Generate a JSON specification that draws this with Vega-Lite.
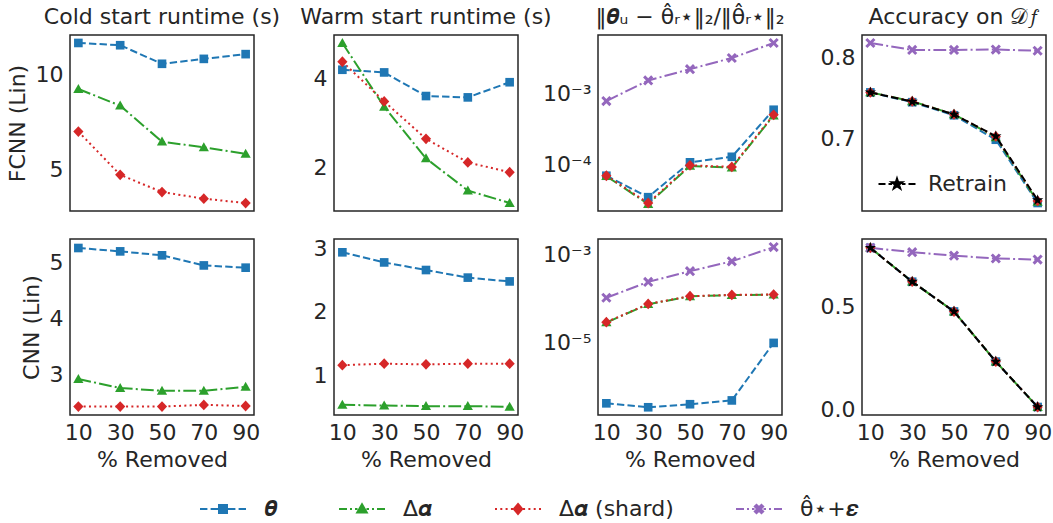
{
  "$schema": "https://vega.github.io/schema/vega-lite/v6.json",
  "padding": {"left": 5, "top": 5, "right": 5, "bottom": 5},
  "datasets": {
    "d": [
      {"r":"F","p":"cold","m":"theta","x":10,"y":11.68},{"r":"F","p":"cold","m":"theta","x":30,"y":11.56},{"r":"F","p":"cold","m":"theta","x":50,"y":10.58},{"r":"F","p":"cold","m":"theta","x":70,"y":10.84},{"r":"F","p":"cold","m":"theta","x":90,"y":11.09},
      {"r":"F","p":"cold","m":"dalpha","x":10,"y":9.25},{"r":"F","p":"cold","m":"dalpha","x":30,"y":8.37},{"r":"F","p":"cold","m":"dalpha","x":50,"y":6.47},{"r":"F","p":"cold","m":"dalpha","x":70,"y":6.17},{"r":"F","p":"cold","m":"dalpha","x":90,"y":5.83},
      {"r":"F","p":"cold","m":"shard","x":10,"y":7.0},{"r":"F","p":"cold","m":"shard","x":30,"y":4.72},{"r":"F","p":"cold","m":"shard","x":50,"y":3.81},{"r":"F","p":"cold","m":"shard","x":70,"y":3.46},{"r":"F","p":"cold","m":"shard","x":90,"y":3.23},

      {"r":"F","p":"warm","m":"theta","x":10,"y":4.19},{"r":"F","p":"warm","m":"theta","x":30,"y":4.13},{"r":"F","p":"warm","m":"theta","x":50,"y":3.60},{"r":"F","p":"warm","m":"theta","x":70,"y":3.57},{"r":"F","p":"warm","m":"theta","x":90,"y":3.91},
      {"r":"F","p":"warm","m":"dalpha","x":10,"y":4.79},{"r":"F","p":"warm","m":"dalpha","x":30,"y":3.36},{"r":"F","p":"warm","m":"dalpha","x":50,"y":2.20},{"r":"F","p":"warm","m":"dalpha","x":70,"y":1.48},{"r":"F","p":"warm","m":"dalpha","x":90,"y":1.20},
      {"r":"F","p":"warm","m":"shard","x":10,"y":4.37},{"r":"F","p":"warm","m":"shard","x":30,"y":3.48},{"r":"F","p":"warm","m":"shard","x":50,"y":2.64},{"r":"F","p":"warm","m":"shard","x":70,"y":2.11},{"r":"F","p":"warm","m":"shard","x":90,"y":1.89},

      {"r":"F","p":"dist","m":"theta","x":10,"y":7.0e-5},{"r":"F","p":"dist","m":"theta","x":30,"y":3.5e-5},{"r":"F","p":"dist","m":"theta","x":50,"y":1.08e-4},{"r":"F","p":"dist","m":"theta","x":70,"y":1.29e-4},{"r":"F","p":"dist","m":"theta","x":90,"y":5.9e-4},
      {"r":"F","p":"dist","m":"dalpha","x":10,"y":6.9e-5},{"r":"F","p":"dist","m":"dalpha","x":30,"y":2.8e-5},{"r":"F","p":"dist","m":"dalpha","x":50,"y":9.6e-5},{"r":"F","p":"dist","m":"dalpha","x":70,"y":9.1e-5},{"r":"F","p":"dist","m":"dalpha","x":90,"y":4.9e-4},
      {"r":"F","p":"dist","m":"shard","x":10,"y":7.0e-5},{"r":"F","p":"dist","m":"shard","x":30,"y":2.9e-5},{"r":"F","p":"dist","m":"shard","x":50,"y":9.8e-5},{"r":"F","p":"dist","m":"shard","x":70,"y":9.3e-5},{"r":"F","p":"dist","m":"shard","x":90,"y":5.0e-4},
      {"r":"F","p":"dist","m":"noise","x":10,"y":7.8e-4},{"r":"F","p":"dist","m":"noise","x":30,"y":1.52e-3},{"r":"F","p":"dist","m":"noise","x":50,"y":2.19e-3},{"r":"F","p":"dist","m":"noise","x":70,"y":3.14e-3},{"r":"F","p":"dist","m":"noise","x":90,"y":5.1e-3},

      {"r":"F","p":"acc","m":"theta","x":10,"y":0.757},{"r":"F","p":"acc","m":"theta","x":30,"y":0.745},{"r":"F","p":"acc","m":"theta","x":50,"y":0.729},{"r":"F","p":"acc","m":"theta","x":70,"y":0.699},{"r":"F","p":"acc","m":"theta","x":90,"y":0.6215},
      {"r":"F","p":"acc","m":"dalpha","x":10,"y":0.757},{"r":"F","p":"acc","m":"dalpha","x":30,"y":0.746},{"r":"F","p":"acc","m":"dalpha","x":50,"y":0.730},{"r":"F","p":"acc","m":"dalpha","x":70,"y":0.702},{"r":"F","p":"acc","m":"dalpha","x":90,"y":0.623},
      {"r":"F","p":"acc","m":"shard","x":10,"y":0.757},{"r":"F","p":"acc","m":"shard","x":30,"y":0.746},{"r":"F","p":"acc","m":"shard","x":50,"y":0.730},{"r":"F","p":"acc","m":"shard","x":70,"y":0.703},{"r":"F","p":"acc","m":"shard","x":90,"y":0.624},
      {"r":"F","p":"acc","m":"noise","x":10,"y":0.8175},{"r":"F","p":"acc","m":"noise","x":30,"y":0.809},{"r":"F","p":"acc","m":"noise","x":50,"y":0.809},{"r":"F","p":"acc","m":"noise","x":70,"y":0.8095},{"r":"F","p":"acc","m":"noise","x":90,"y":0.808},
      {"r":"F","p":"acc","m":"retrain","x":10,"y":0.757},{"r":"F","p":"acc","m":"retrain","x":30,"y":0.7457},{"r":"F","p":"acc","m":"retrain","x":50,"y":0.730},{"r":"F","p":"acc","m":"retrain","x":70,"y":0.7033},{"r":"F","p":"acc","m":"retrain","x":90,"y":0.625},

      {"r":"C","p":"cold","m":"theta","x":10,"y":5.25},{"r":"C","p":"cold","m":"theta","x":30,"y":5.19},{"r":"C","p":"cold","m":"theta","x":50,"y":5.12},{"r":"C","p":"cold","m":"theta","x":70,"y":4.94},{"r":"C","p":"cold","m":"theta","x":90,"y":4.90},
      {"r":"C","p":"cold","m":"dalpha","x":10,"y":2.92},{"r":"C","p":"cold","m":"dalpha","x":30,"y":2.76},{"r":"C","p":"cold","m":"dalpha","x":50,"y":2.71},{"r":"C","p":"cold","m":"dalpha","x":70,"y":2.71},{"r":"C","p":"cold","m":"dalpha","x":90,"y":2.78},
      {"r":"C","p":"cold","m":"shard","x":10,"y":2.43},{"r":"C","p":"cold","m":"shard","x":30,"y":2.43},{"r":"C","p":"cold","m":"shard","x":50,"y":2.43},{"r":"C","p":"cold","m":"shard","x":70,"y":2.46},{"r":"C","p":"cold","m":"shard","x":90,"y":2.44},

      {"r":"C","p":"warm","m":"theta","x":10,"y":2.94},{"r":"C","p":"warm","m":"theta","x":30,"y":2.78},{"r":"C","p":"warm","m":"theta","x":50,"y":2.66},{"r":"C","p":"warm","m":"theta","x":70,"y":2.54},{"r":"C","p":"warm","m":"theta","x":90,"y":2.48},
      {"r":"C","p":"warm","m":"dalpha","x":10,"y":0.53},{"r":"C","p":"warm","m":"dalpha","x":30,"y":0.52},{"r":"C","p":"warm","m":"dalpha","x":50,"y":0.51},{"r":"C","p":"warm","m":"dalpha","x":70,"y":0.51},{"r":"C","p":"warm","m":"dalpha","x":90,"y":0.50},
      {"r":"C","p":"warm","m":"shard","x":10,"y":1.157},{"r":"C","p":"warm","m":"shard","x":30,"y":1.18},{"r":"C","p":"warm","m":"shard","x":50,"y":1.17},{"r":"C","p":"warm","m":"shard","x":70,"y":1.18},{"r":"C","p":"warm","m":"shard","x":90,"y":1.18},

      {"r":"C","p":"dist","m":"theta","x":10,"y":4.3e-7},{"r":"C","p":"dist","m":"theta","x":30,"y":3.5e-7},{"r":"C","p":"dist","m":"theta","x":50,"y":4.1e-7},{"r":"C","p":"dist","m":"theta","x":70,"y":5.0e-7},{"r":"C","p":"dist","m":"theta","x":90,"y":1.0e-5},
      {"r":"C","p":"dist","m":"dalpha","x":10,"y":2.9e-5},{"r":"C","p":"dist","m":"dalpha","x":30,"y":7.5e-5},{"r":"C","p":"dist","m":"dalpha","x":50,"y":1.13e-4},{"r":"C","p":"dist","m":"dalpha","x":70,"y":1.21e-4},{"r":"C","p":"dist","m":"dalpha","x":90,"y":1.23e-4},
      {"r":"C","p":"dist","m":"shard","x":10,"y":2.95e-5},{"r":"C","p":"dist","m":"shard","x":30,"y":7.6e-5},{"r":"C","p":"dist","m":"shard","x":50,"y":1.14e-4},{"r":"C","p":"dist","m":"shard","x":70,"y":1.22e-4},{"r":"C","p":"dist","m":"shard","x":90,"y":1.24e-4},
      {"r":"C","p":"dist","m":"noise","x":10,"y":1.05e-4},{"r":"C","p":"dist","m":"noise","x":30,"y":2.4e-4},{"r":"C","p":"dist","m":"noise","x":50,"y":4.2e-4},{"r":"C","p":"dist","m":"noise","x":70,"y":7.0e-4},{"r":"C","p":"dist","m":"noise","x":90,"y":1.47e-3},

      {"r":"C","p":"acc","m":"theta","x":10,"y":0.786},{"r":"C","p":"acc","m":"theta","x":30,"y":0.621},{"r":"C","p":"acc","m":"theta","x":50,"y":0.476},{"r":"C","p":"acc","m":"theta","x":70,"y":0.232},{"r":"C","p":"acc","m":"theta","x":90,"y":0.011},
      {"r":"C","p":"acc","m":"dalpha","x":10,"y":0.786},{"r":"C","p":"acc","m":"dalpha","x":30,"y":0.621},{"r":"C","p":"acc","m":"dalpha","x":50,"y":0.476},{"r":"C","p":"acc","m":"dalpha","x":70,"y":0.232},{"r":"C","p":"acc","m":"dalpha","x":90,"y":0.011},
      {"r":"C","p":"acc","m":"shard","x":10,"y":0.786},{"r":"C","p":"acc","m":"shard","x":30,"y":0.621},{"r":"C","p":"acc","m":"shard","x":50,"y":0.476},{"r":"C","p":"acc","m":"shard","x":70,"y":0.232},{"r":"C","p":"acc","m":"shard","x":90,"y":0.011},
      {"r":"C","p":"acc","m":"noise","x":10,"y":0.786},{"r":"C","p":"acc","m":"noise","x":30,"y":0.765},{"r":"C","p":"acc","m":"noise","x":50,"y":0.748},{"r":"C","p":"acc","m":"noise","x":70,"y":0.734},{"r":"C","p":"acc","m":"noise","x":90,"y":0.729},
      {"r":"C","p":"acc","m":"retrain","x":10,"y":0.786},{"r":"C","p":"acc","m":"retrain","x":30,"y":0.621},{"r":"C","p":"acc","m":"retrain","x":50,"y":0.476},{"r":"C","p":"acc","m":"retrain","x":70,"y":0.232},{"r":"C","p":"acc","m":"retrain","x":90,"y":0.011}
    ]
  },
  "data": {"name": "d"},
  "columns": 4,
  "spacing": {"row": 28, "column": 80},
  "bounds": "flush",
  "resolve": {"scale": {"fill": "independent"}, "legend": {"fill": "independent"}},
  "concat": [
    {
      "width": 184, "height": 176,
      "title": "Cold start runtime (s)",
      "transform": [{"filter": "datum.r == 'F' && datum.p == 'cold'"}],
      "encoding": {
        "x": {"field": "x", "type": "quantitative", "scale": {"domain": [6, 94], "nice": false}, "axis": {"labels": false, "title": null, "values": [10, 30, 50, 70, 90]}},
        "y": {"field": "y", "type": "quantitative", "scale": {"domain": [2.81, 12.1], "nice": false, "zero": false}, "axis": {"values": [5, 10], "title": "FCNN (Lin)"}}
      },
      "layer": [
        {"transform": [{"filter": "datum.m != 'retrain'"}], "mark": {"type": "line", "strokeWidth": 2},
         "encoding": {
           "color": {"field": "m", "type": "nominal", "scale": {"domain": ["theta","dalpha","shard","noise"], "range": ["#1f77b4","#2ca02c","#d62728","#9467bd"]},
             "legend": {
               "orient": "bottom", "direction": "horizontal", "title": null, "offset": 27,
               "labelExpr": "datum.value == 'theta' ? '𝜽' : datum.value == 'dalpha' ? 'Δ𝜶' : datum.value == 'shard' ? 'Δ𝜶 (shard)' : 'θ̂⋆+𝜺'",
               "labelFontSize": 22, "labelColor": "#262626",
               "symbolSize": 400, "symbolOffset": 13, "labelOffset": 30, "columnPadding": 58,
               "symbolStrokeWidth": 2,
               "encode": {"symbols": {"update": {
                 "shape": {"signal": "datum.value == 'theta' ? 'M-2.3,0H-1.56M-1.24,0H-0.5M0.5,0H1.24M1.56,0H2.3M-0.4,-0.4H0.4V0.4H-0.4Z' : datum.value == 'dalpha' ? 'M-2.3,0H-1.5M-1.2,0H-1M-0.7,0H-0.45M0.45,0H0.7M1,0H1.2M1.5,0H2.3M0,-0.48L0.48,0.36L-0.48,0.36Z' : datum.value == 'shard' ? 'M-2.3,0H-2.1M-1.77,0H-1.57M-1.24,0H-1.04M-0.71,0H-0.51M0.51,0H0.71M1.04,0H1.24M1.57,0H1.77M2.1,0H2.3M0,-0.5L0.42,0L0,0.5L-0.42,0Z' : 'M-2.3,0H-1.5M-1.2,0H-1M-0.7,0H-0.45M0.45,0H0.7M1,0H1.2M1.5,0H2.3M-0.42,-0.25L-0.25,-0.42L0,-0.17L0.25,-0.42L0.42,-0.25L0.17,0L0.42,0.25L0.25,0.42L0,0.17L-0.25,0.42L-0.42,0.25L-0.17,0Z'"},
                 "fill": {"signal": "scale('color', datum.value)"},
                 "stroke": {"signal": "scale('color', datum.value)"},
                 "strokeWidth": {"value": 2},
                 "opacity": {"value": 1}
               }}}
             }},
           "strokeDash": {"field": "m", "type": "nominal", "scale": {"domain": ["noise","shard","dalpha","theta"], "range": [[12.8,3.2,2,3.2],[2,3.3],[12.8,3.2,2,3.2],[7.4,3.2]]}, "legend": null}}},
        {"transform": [{"filter": "datum.m != 'retrain'"}], "mark": {"type": "point", "filled": true, "opacity": 1, "size": 144},
         "encoding": {
           "color": {"field": "m", "type": "nominal", "scale": {"domain": ["theta","dalpha","shard","noise"], "range": ["#1f77b4","#2ca02c","#d62728","#9467bd"]}},
           "shape": {"field": "m", "type": "nominal", "scale": {"domain": ["noise","shard","dalpha","theta"], "range": ["M-0.85,-0.5L-0.5,-0.85L0,-0.35L0.5,-0.85L0.85,-0.5L0.35,0L0.85,0.5L0.5,0.85L0,0.35L-0.5,0.85L-0.85,0.5L-0.35,0Z","M0,-0.9L0.85,0L0,0.9L-0.85,0Z","M0,-0.85L0.85,0.65L-0.85,0.65Z","M-0.72,-0.72H0.72V0.72H-0.72Z"]}, "legend": null}}}
      ]
    },
    {
      "width": 184, "height": 176,
      "title": "Warm start runtime (s)",
      "transform": [{"filter": "datum.r == 'F' && datum.p == 'warm'"}],
      "encoding": {
        "x": {"field": "x", "type": "quantitative", "scale": {"domain": [6, 94], "nice": false}, "axis": {"labels": false, "title": null, "values": [10, 30, 50, 70, 90]}},
        "y": {"field": "y", "type": "quantitative", "scale": {"domain": [1.02, 4.97], "nice": false, "zero": false}, "axis": {"values": [2, 4], "title": null}}
      },
      "layer": [
        {"transform": [{"filter": "datum.m != 'retrain'"}], "mark": {"type": "line", "strokeWidth": 2},
         "encoding": {
           "color": {"field": "m", "type": "nominal", "scale": {"domain": ["theta","dalpha","shard","noise"], "range": ["#1f77b4","#2ca02c","#d62728","#9467bd"]}},
           "strokeDash": {"field": "m", "type": "nominal", "scale": {"domain": ["noise","shard","dalpha","theta"], "range": [[12.8,3.2,2,3.2],[2,3.3],[12.8,3.2,2,3.2],[7.4,3.2]]}, "legend": null}}},
        {"transform": [{"filter": "datum.m != 'retrain'"}], "mark": {"type": "point", "filled": true, "opacity": 1, "size": 144},
         "encoding": {
           "color": {"field": "m", "type": "nominal", "scale": {"domain": ["theta","dalpha","shard","noise"], "range": ["#1f77b4","#2ca02c","#d62728","#9467bd"]}},
           "shape": {"field": "m", "type": "nominal", "scale": {"domain": ["noise","shard","dalpha","theta"], "range": ["M-0.85,-0.5L-0.5,-0.85L0,-0.35L0.5,-0.85L0.85,-0.5L0.35,0L0.85,0.5L0.5,0.85L0,0.35L-0.5,0.85L-0.85,0.5L-0.35,0Z","M0,-0.9L0.85,0L0,0.9L-0.85,0Z","M0,-0.85L0.85,0.65L-0.85,0.65Z","M-0.72,-0.72H0.72V0.72H-0.72Z"]}, "legend": null}}}
      ]
    },
    {
      "width": 184, "height": 176,
      "title": "‖𝜽ᵤ − θ̂ᵣ⋆‖₂/‖θ̂ᵣ⋆‖₂",
      "transform": [{"filter": "datum.r == 'F' && datum.p == 'dist'"}],
      "encoding": {
        "x": {"field": "x", "type": "quantitative", "scale": {"domain": [6, 94], "nice": false}, "axis": {"labels": false, "title": null, "values": [10, 30, 50, 70, 90]}},
        "y": {"field": "y", "type": "quantitative", "scale": {"type": "log", "domain": [2.24e-5, 6.6e-3], "nice": false}, "axis": {"values": [0.0001, 0.001], "labelExpr": "datum.value < 0.0005 ? '10⁻⁴' : '10⁻³'", "title": null}}
      },
      "layer": [
        {"transform": [{"filter": "datum.m != 'retrain'"}], "mark": {"type": "line", "strokeWidth": 2},
         "encoding": {
           "color": {"field": "m", "type": "nominal", "scale": {"domain": ["theta","dalpha","shard","noise"], "range": ["#1f77b4","#2ca02c","#d62728","#9467bd"]}},
           "strokeDash": {"field": "m", "type": "nominal", "scale": {"domain": ["noise","shard","dalpha","theta"], "range": [[12.8,3.2,2,3.2],[2,3.3],[12.8,3.2,2,3.2],[7.4,3.2]]}, "legend": null}}},
        {"transform": [{"filter": "datum.m != 'retrain'"}], "mark": {"type": "point", "filled": true, "opacity": 1, "size": 144},
         "encoding": {
           "color": {"field": "m", "type": "nominal", "scale": {"domain": ["theta","dalpha","shard","noise"], "range": ["#1f77b4","#2ca02c","#d62728","#9467bd"]}},
           "shape": {"field": "m", "type": "nominal", "scale": {"domain": ["noise","shard","dalpha","theta"], "range": ["M-0.85,-0.5L-0.5,-0.85L0,-0.35L0.5,-0.85L0.85,-0.5L0.35,0L0.85,0.5L0.5,0.85L0,0.35L-0.5,0.85L-0.85,0.5L-0.35,0Z","M0,-0.9L0.85,0L0,0.9L-0.85,0Z","M0,-0.85L0.85,0.65L-0.85,0.65Z","M-0.72,-0.72H0.72V0.72H-0.72Z"]}, "legend": null}}}
      ]
    },
    {
      "width": 184, "height": 176,
      "title": "Accuracy on 𝒟𝑓",
      "transform": [{"filter": "datum.r == 'F' && datum.p == 'acc'"}],
      "encoding": {
        "x": {"field": "x", "type": "quantitative", "scale": {"domain": [6, 94], "nice": false}, "axis": {"labels": false, "title": null, "values": [10, 30, 50, 70, 90]}},
        "y": {"field": "y", "type": "quantitative", "scale": {"domain": [0.6117, 0.8273], "nice": false, "zero": false}, "axis": {"values": [0.7, 0.8], "format": ".1f", "title": null}}
      },
      "layer": [
        {"transform": [{"filter": "datum.m != 'retrain'"}], "mark": {"type": "line", "strokeWidth": 2},
         "encoding": {
           "color": {"field": "m", "type": "nominal", "scale": {"domain": ["theta","dalpha","shard","noise"], "range": ["#1f77b4","#2ca02c","#d62728","#9467bd"]}},
           "strokeDash": {"field": "m", "type": "nominal", "scale": {"domain": ["noise","shard","dalpha","theta"], "range": [[12.8,3.2,2,3.2],[2,3.3],[12.8,3.2,2,3.2],[7.4,3.2]]}, "legend": null}}},
        {"transform": [{"filter": "datum.m != 'retrain'"}], "mark": {"type": "point", "filled": true, "opacity": 1, "size": 144},
         "encoding": {
           "color": {"field": "m", "type": "nominal", "scale": {"domain": ["theta","dalpha","shard","noise"], "range": ["#1f77b4","#2ca02c","#d62728","#9467bd"]}},
           "shape": {"field": "m", "type": "nominal", "scale": {"domain": ["noise","shard","dalpha","theta"], "range": ["M-0.85,-0.5L-0.5,-0.85L0,-0.35L0.5,-0.85L0.85,-0.5L0.35,0L0.85,0.5L0.5,0.85L0,0.35L-0.5,0.85L-0.85,0.5L-0.35,0Z","M0,-0.9L0.85,0L0,0.9L-0.85,0Z","M0,-0.85L0.85,0.65L-0.85,0.65Z","M-0.72,-0.72H0.72V0.72H-0.72Z"]}, "legend": null}}},
        {"transform": [{"filter": "datum.m == 'retrain'"}], "mark": {"type": "line", "strokeWidth": 2, "color": "black", "strokeDash": [7.4, 3.2]}, "encoding": {}},
        {"transform": [{"filter": "datum.m == 'retrain'"}], "mark": {"type": "point", "filled": true, "opacity": 1, "size": 144, "shape": "M0,-1L0.223,-0.307L0.951,-0.309L0.361,0.117L0.588,0.809L0,0.38L-0.588,0.809L-0.361,0.117L-0.951,-0.309L-0.223,-0.307Z"},
         "encoding": {
           "fill": {"field": "m", "type": "nominal", "scale": {"range": ["black"]},
             "legend": {
               "orient": "bottom-left", "title": null, "offset": 16, "labelExpr": "'Retrain'",
               "labelFontSize": 22, "labelColor": "#262626",
               "symbolSize": 400, "symbolOffset": 8, "labelOffset": 20,
               "symbolStrokeColor": "black", "symbolStrokeWidth": 2, "symbolFillColor": "black",
               "symbolType": "M-1.85,0H-1.15M-0.85,0H-0.5M0.5,0H0.85M1.15,0H1.85M0,-0.55L0.123,-0.17L0.523,-0.17L0.199,0.065L0.323,0.445L0,0.209L-0.323,0.445L-0.199,0.065L-0.523,-0.17L-0.123,-0.17Z",
               "encode": {"symbols": {"update": {"stroke": {"value": "black"}, "strokeWidth": {"value": 2}, "fill": {"value": "black"}, "opacity": {"value": 1}}}}
             }}}}
      ]
    },
    {
      "width": 184, "height": 176,
      "transform": [{"filter": "datum.r == 'C' && datum.p == 'cold'"}],
      "encoding": {
        "x": {"field": "x", "type": "quantitative", "scale": {"domain": [6, 94], "nice": false}, "axis": {"title": "% Removed", "values": [10, 30, 50, 70, 90]}},
        "y": {"field": "y", "type": "quantitative", "scale": {"domain": [2.28, 5.41], "nice": false, "zero": false}, "axis": {"values": [3, 4, 5], "title": "CNN (Lin)"}}
      },
      "layer": [
        {"transform": [{"filter": "datum.m != 'retrain'"}], "mark": {"type": "line", "strokeWidth": 2},
         "encoding": {
           "color": {"field": "m", "type": "nominal", "scale": {"domain": ["theta","dalpha","shard","noise"], "range": ["#1f77b4","#2ca02c","#d62728","#9467bd"]}},
           "strokeDash": {"field": "m", "type": "nominal", "scale": {"domain": ["noise","shard","dalpha","theta"], "range": [[12.8,3.2,2,3.2],[2,3.3],[12.8,3.2,2,3.2],[7.4,3.2]]}, "legend": null}}},
        {"transform": [{"filter": "datum.m != 'retrain'"}], "mark": {"type": "point", "filled": true, "opacity": 1, "size": 144},
         "encoding": {
           "color": {"field": "m", "type": "nominal", "scale": {"domain": ["theta","dalpha","shard","noise"], "range": ["#1f77b4","#2ca02c","#d62728","#9467bd"]}},
           "shape": {"field": "m", "type": "nominal", "scale": {"domain": ["noise","shard","dalpha","theta"], "range": ["M-0.85,-0.5L-0.5,-0.85L0,-0.35L0.5,-0.85L0.85,-0.5L0.35,0L0.85,0.5L0.5,0.85L0,0.35L-0.5,0.85L-0.85,0.5L-0.35,0Z","M0,-0.9L0.85,0L0,0.9L-0.85,0Z","M0,-0.85L0.85,0.65L-0.85,0.65Z","M-0.72,-0.72H0.72V0.72H-0.72Z"]}, "legend": null}}}
      ]
    },
    {
      "width": 184, "height": 176,
      "transform": [{"filter": "datum.r == 'C' && datum.p == 'warm'"}],
      "encoding": {
        "x": {"field": "x", "type": "quantitative", "scale": {"domain": [6, 94], "nice": false}, "axis": {"title": "% Removed", "values": [10, 30, 50, 70, 90]}},
        "y": {"field": "y", "type": "quantitative", "scale": {"domain": [0.37, 3.15], "nice": false, "zero": false}, "axis": {"values": [1, 2, 3], "title": null}}
      },
      "layer": [
        {"transform": [{"filter": "datum.m != 'retrain'"}], "mark": {"type": "line", "strokeWidth": 2},
         "encoding": {
           "color": {"field": "m", "type": "nominal", "scale": {"domain": ["theta","dalpha","shard","noise"], "range": ["#1f77b4","#2ca02c","#d62728","#9467bd"]}},
           "strokeDash": {"field": "m", "type": "nominal", "scale": {"domain": ["noise","shard","dalpha","theta"], "range": [[12.8,3.2,2,3.2],[2,3.3],[12.8,3.2,2,3.2],[7.4,3.2]]}, "legend": null}}},
        {"transform": [{"filter": "datum.m != 'retrain'"}], "mark": {"type": "point", "filled": true, "opacity": 1, "size": 144},
         "encoding": {
           "color": {"field": "m", "type": "nominal", "scale": {"domain": ["theta","dalpha","shard","noise"], "range": ["#1f77b4","#2ca02c","#d62728","#9467bd"]}},
           "shape": {"field": "m", "type": "nominal", "scale": {"domain": ["noise","shard","dalpha","theta"], "range": ["M-0.85,-0.5L-0.5,-0.85L0,-0.35L0.5,-0.85L0.85,-0.5L0.35,0L0.85,0.5L0.5,0.85L0,0.35L-0.5,0.85L-0.85,0.5L-0.35,0Z","M0,-0.9L0.85,0L0,0.9L-0.85,0Z","M0,-0.85L0.85,0.65L-0.85,0.65Z","M-0.72,-0.72H0.72V0.72H-0.72Z"]}, "legend": null}}}
      ]
    },
    {
      "width": 184, "height": 176,
      "transform": [{"filter": "datum.r == 'C' && datum.p == 'dist'"}],
      "encoding": {
        "x": {"field": "x", "type": "quantitative", "scale": {"domain": [6, 94], "nice": false}, "axis": {"title": "% Removed", "values": [10, 30, 50, 70, 90]}},
        "y": {"field": "y", "type": "quantitative", "scale": {"type": "log", "domain": [2.34e-7, 2.24e-3], "nice": false}, "axis": {"values": [0.00001, 0.001], "labelExpr": "datum.value < 0.0001 ? '10⁻⁵' : '10⁻³'", "title": null}}
      },
      "layer": [
        {"transform": [{"filter": "datum.m != 'retrain'"}], "mark": {"type": "line", "strokeWidth": 2},
         "encoding": {
           "color": {"field": "m", "type": "nominal", "scale": {"domain": ["theta","dalpha","shard","noise"], "range": ["#1f77b4","#2ca02c","#d62728","#9467bd"]}},
           "strokeDash": {"field": "m", "type": "nominal", "scale": {"domain": ["noise","shard","dalpha","theta"], "range": [[12.8,3.2,2,3.2],[2,3.3],[12.8,3.2,2,3.2],[7.4,3.2]]}, "legend": null}}},
        {"transform": [{"filter": "datum.m != 'retrain'"}], "mark": {"type": "point", "filled": true, "opacity": 1, "size": 144},
         "encoding": {
           "color": {"field": "m", "type": "nominal", "scale": {"domain": ["theta","dalpha","shard","noise"], "range": ["#1f77b4","#2ca02c","#d62728","#9467bd"]}},
           "shape": {"field": "m", "type": "nominal", "scale": {"domain": ["noise","shard","dalpha","theta"], "range": ["M-0.85,-0.5L-0.5,-0.85L0,-0.35L0.5,-0.85L0.85,-0.5L0.35,0L0.85,0.5L0.5,0.85L0,0.35L-0.5,0.85L-0.85,0.5L-0.35,0Z","M0,-0.9L0.85,0L0,0.9L-0.85,0Z","M0,-0.85L0.85,0.65L-0.85,0.65Z","M-0.72,-0.72H0.72V0.72H-0.72Z"]}, "legend": null}}}
      ]
    },
    {
      "width": 184, "height": 176,
      "transform": [{"filter": "datum.r == 'C' && datum.p == 'acc'"}],
      "encoding": {
        "x": {"field": "x", "type": "quantitative", "scale": {"domain": [6, 94], "nice": false}, "axis": {"title": "% Removed", "values": [10, 30, 50, 70, 90]}},
        "y": {"field": "y", "type": "quantitative", "scale": {"domain": [-0.028, 0.829], "nice": false, "zero": false}, "axis": {"values": [0, 0.5], "format": ".1f", "title": null}}
      },
      "layer": [
        {"transform": [{"filter": "datum.m != 'retrain'"}], "mark": {"type": "line", "strokeWidth": 2},
         "encoding": {
           "color": {"field": "m", "type": "nominal", "scale": {"domain": ["theta","dalpha","shard","noise"], "range": ["#1f77b4","#2ca02c","#d62728","#9467bd"]}},
           "strokeDash": {"field": "m", "type": "nominal", "scale": {"domain": ["noise","shard","dalpha","theta"], "range": [[12.8,3.2,2,3.2],[2,3.3],[12.8,3.2,2,3.2],[7.4,3.2]]}, "legend": null}}},
        {"transform": [{"filter": "datum.m != 'retrain'"}], "mark": {"type": "point", "filled": true, "opacity": 1, "size": 144},
         "encoding": {
           "color": {"field": "m", "type": "nominal", "scale": {"domain": ["theta","dalpha","shard","noise"], "range": ["#1f77b4","#2ca02c","#d62728","#9467bd"]}},
           "shape": {"field": "m", "type": "nominal", "scale": {"domain": ["noise","shard","dalpha","theta"], "range": ["M-0.85,-0.5L-0.5,-0.85L0,-0.35L0.5,-0.85L0.85,-0.5L0.35,0L0.85,0.5L0.5,0.85L0,0.35L-0.5,0.85L-0.85,0.5L-0.35,0Z","M0,-0.9L0.85,0L0,0.9L-0.85,0Z","M0,-0.85L0.85,0.65L-0.85,0.65Z","M-0.72,-0.72H0.72V0.72H-0.72Z"]}, "legend": null}}},
        {"transform": [{"filter": "datum.m == 'retrain'"}], "mark": {"type": "line", "strokeWidth": 2, "color": "black", "strokeDash": [7.4, 3.2]}, "encoding": {}},
        {"transform": [{"filter": "datum.m == 'retrain'"}], "mark": {"type": "point", "filled": true, "opacity": 1, "size": 144, "color": "black", "shape": "M0,-1L0.223,-0.307L0.951,-0.309L0.361,0.117L0.588,0.809L0,0.38L-0.588,0.809L-0.361,0.117L-0.951,-0.309L-0.223,-0.307Z"}, "encoding": {}}
      ]
    }
  ],
  "config": {
    "font": "DejaVu Sans",
    "background": "white",
    "view": {"stroke": "#262626", "strokeWidth": 1.5},
    "axis": {"grid": false, "domain": false, "ticks": false, "labelFontSize": 22, "titleFontSize": 22, "labelColor": "#262626", "titleColor": "#262626", "titleFontWeight": "normal", "labelPadding": 7, "titlePadding": 6, "labelFlush": false, "labelOverlap": false},
    "title": {"fontSize": 22, "fontWeight": "normal", "color": "#262626", "offset": 6, "anchor": "middle", "frame": "group"},
    "legend": {"layout": {"bottom": {"anchor": "middle"}}}
  }
}
